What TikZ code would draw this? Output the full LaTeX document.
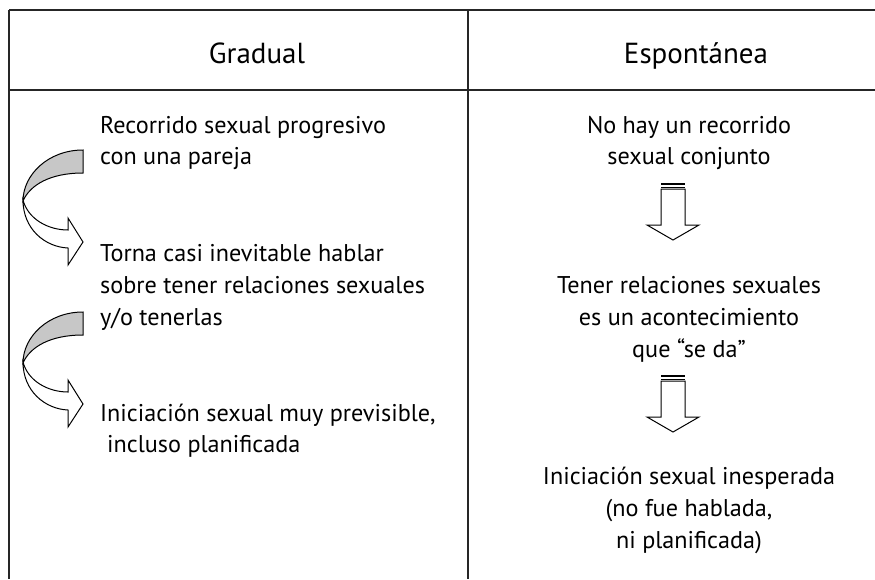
\documentclass[tikz,border=0pt]{standalone}
\usepackage{fontspec}
\setmainfont{PT Sans}
\begin{document}
\begin{tikzpicture}[x=1pt,y=-1pt,
  rule/.style={line width=2pt,draw=black!85},
  thinrule/.style={line width=1.3pt,draw=black!85},
  txt/.style={inner sep=0pt,font=\fontsize{24.2}{31.8}\selectfont},
  hdr/.style={inner sep=0pt,font=\fontsize{29}{32}\selectfont},
  curvgrey/.style={fill=black!22,draw=black,line width=1pt,line join=miter},
  curvwhite/.style={fill=white,draw=black,line width=1pt,line join=miter},
  blockarr/.style={fill=white,draw=black,line width=1pt}]
\useasboundingbox (0,0) rectangle (875,579);
% table
\coordinate (tl) at (9,10); \coordinate (tr) at (875,10);
\coordinate (hl) at (9,90); \coordinate (hr) at (875,90);
\coordinate (dt) at (468,10); \coordinate (db) at (468,579);
\coordinate (bl) at (9,579);
\draw[rule] (tl) -- (tr);
\draw[rule] (hl) -- (hr);
\draw[rule] (tl) -- (bl);
\draw[thinrule] (dt) -- (db);
% headers
\node[hdr,anchor=base] (hg) at (257,63) {Gradual};
\node[hdr,anchor=base] (he) at (696,63) {Espontánea};
% left texts
\node[txt,anchor=north west,align=left] (l1) at (100,110.6) {\strut Recorrido sexual progresivo\\con una pareja};
\node[txt,anchor=north west,align=left] (l2) at (100,239.1) {\strut Torna casi inevitable hablar\\sobre tener relaciones sexuales\\y/o tenerlas};
\node[txt,anchor=north west,align=left] (l3) at (100,398.6) {\strut Iniciación sexual muy previsible,\\\hspace*{7pt}incluso planificada};
% right texts
\node[txt,anchor=north,align=center] (r1) at (689,110.6) {\strut No hay un recorrido\\sexual conjunto};
\node[txt,anchor=north,align=center] (r2) at (689,271.2) {\strut Tener relaciones sexuales\\es un acontecimiento\\que “se da”};
\node[txt,anchor=north,align=center] (r3) at (689,462.1) {\strut Iniciación sexual inesperada\\(no fue hablada,\\ni planificada)};
% curved arrows
\foreach \dy in {0,162}{
  \begin{scope}[yshift=-\dy pt]
  \draw[curvwhite] (23,200) .. controls (23,229) and (45,247) .. (68,248) -- (68,265) -- (83,242) -- (68,218) -- (68,230) .. controls (48,230) and (28,219) .. (23,200) -- cycle;
  \draw[curvgrey] (83,150) .. controls (48,150) and (23,175) .. (23,201) .. controls (30,185) and (50,173) .. (83,173) -- cycle;
  \end{scope}
}
% striped block arrows
\foreach \ty in {183,375}{
  \begin{scope}[yshift=-\ty pt]
  \fill[black] (661,0) rectangle (685,2.2);
  \fill[black] (661,3.6) rectangle (685,5);
  \draw[blockarr] (661,6) -- (661,42) -- (647,42) -- (673,57) -- (699,42) -- (685,42) -- (685,6) -- cycle;
  \end{scope}
}
\end{tikzpicture}
\end{document}
